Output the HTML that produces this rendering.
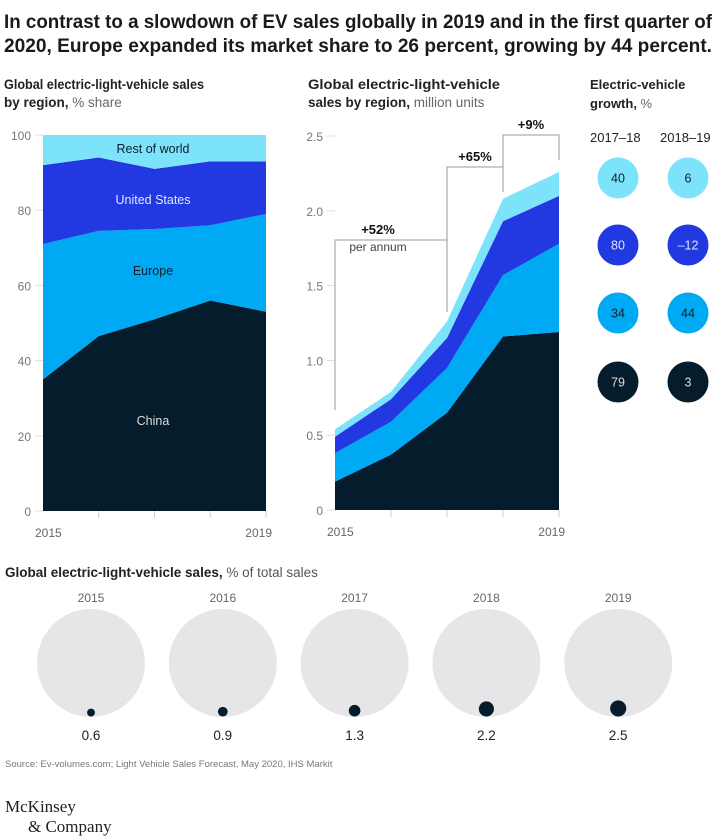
<!DOCTYPE html>
<html><head><meta charset="utf-8"><style>
html,body{margin:0;padding:0;background:#fff;}
svg{display:block;font-family:"Liberation Sans",Arial,sans-serif;}
</style></head><body>
<svg id="c" width="720" height="839" viewBox="0 0 720 839" xmlns="http://www.w3.org/2000/svg">
<g font-size="19" font-weight="bold" fill="#1a1a1a">
<text x="4" y="28" textLength="708" lengthAdjust="spacingAndGlyphs">In contrast to a slowdown of EV sales globally in 2019 and in the first quarter of</text>
<text x="4" y="52" textLength="708" lengthAdjust="spacingAndGlyphs">2020, Europe expanded its market share to 26 percent, growing by 44 percent.</text>
</g>
<g font-size="13.5" fill="#222">
<text x="4" y="89" font-weight="bold" textLength="200" lengthAdjust="spacingAndGlyphs">Global electric-light-vehicle sales</text>
<text x="4" y="107"><tspan font-weight="bold">by region,</tspan><tspan fill="#666"> % share</tspan></text>
</g>
<g font-size="13.5" fill="#222">
<text x="308" y="89" font-weight="bold" textLength="192" lengthAdjust="spacingAndGlyphs">Global electric-light-vehicle</text>
<text x="308" y="107"><tspan font-weight="bold">sales by region,</tspan><tspan fill="#666"> million units</tspan></text>
</g>
<g font-size="13" fill="#222">
<text x="590" y="89" font-weight="bold">Electric-vehicle</text>
<text x="590" y="108"><tspan font-weight="bold">growth,</tspan><tspan fill="#666"> %</tspan></text>
<text x="590" y="142" font-size="13">2017–18</text>
<text x="660" y="142" font-size="13">2018–19</text>
</g>
<g id="left"></g>
<g id="right"></g>
<g id="growth"></g>
<g font-size="13.5" fill="#222">
<text x="5" y="577"><tspan font-weight="bold">Global electric-light-vehicle sales,</tspan><tspan fill="#555"> % of total sales</tspan></text>
</g>
<g id="pct"></g>
<text x="5" y="767" font-size="9.5" fill="#777">Source: Ev-volumes.com; Light Vehicle Sales Forecast, May 2020, IHS Markit</text>
<g font-family="'Liberation Serif',serif" font-size="17" fill="#222">
<text x="5" y="812">McKinsey</text>
<text x="28" y="832">&amp; Company</text>
</g>
</svg>
<script>
const years=[2015,2016,2017,2018,2019];
const regions=["China","Europe","United States","Rest of world"];
const colors=["#051c2c","#00a9f4","#2238e0","#7de3fb"];
const shareChina=[35,46.5,51,56,53];
const shareEurope=[36,28,24,20,26];
const shareUS=[21,19.5,16,17,14];
const shareRoW=[8,6,9,7,7];
const shareTicks=[0,20,40,60,80,100];
const unitsChina=[0.19,0.37,0.65,1.16,1.19];
const unitsEurope=[0.19,0.22,0.30,0.41,0.59];
const unitsUS=[0.11,0.15,0.20,0.36,0.32];
const unitsRoW=[0.05,0.05,0.11,0.15,0.16];
const unitTicks=[0,0.5,1.0,1.5,2.0,2.5];
const growthA=["40","80","34","79"];
const growthB=["6","–12","44","3"];
const pctYears=["2015","2016","2017","2018","2019"];
const pctValues=[0.6,0.9,1.3,2.2,2.5];
const NS="http://www.w3.org/2000/svg";
function mk(parent,tag,attrs,txt){const e=document.createElementNS(NS,tag);for(const k in attrs)e.setAttribute(k,attrs[k]);if(txt!==undefined)e.textContent=txt;parent.appendChild(e);return e;}
function stack(g,series,xs,ys,ticks,fmt){
  const x0=xs(0),x1=xs(years.length-1);
  ticks.forEach(t=>{const y=ys(t);
    const l=mk(g,'line',{x1:x0-8,x2:x0,y1:y,y2:y,stroke:'#ddd','stroke-width':1});
    
    const tx=mk(g,'text',{x:x0-12,y:y+5,'text-anchor':'end','font-size':12,fill:'#777'},fmt(t));
    });
  let base=years.map(()=>0);
  series.forEach((s,i)=>{const top=base.map((b,j)=>b+s[j]);
    let d='M'+years.map((_,j)=>xs(j)+','+ys(top[j])).join('L');
    for(let j=years.length-1;j>=0;j--)d+='L'+xs(j)+','+ys(base[j]);
    const p=mk(g,'path',{d:d+'Z',fill:colors[i]});
    
    base=top;});
  years.forEach((_,j)=>{if(j>0){const l=mk(g,'line',{x1:xs(j),x2:xs(j),y1:ys(0),y2:ys(0)+7,stroke:'#ccc'});}});
  const a=mk(g,'text',{x:x0-8,y:ys(0)+26,'font-size':12,fill:'#666'},String(years[0]));
  const b=mk(g,'text',{x:x1+6,y:ys(0)+26,'font-size':12,fill:'#666','text-anchor':'end'},String(years[years.length-1]));
}
const L=document.getElementById('left');
const lx=j=>43+j*(266-43)/4, ly=v=>511-v*3.76;
stack(L,[shareChina,shareEurope,shareUS,shareRoW],lx,ly,shareTicks,t=>String(t));
[["Rest of world",148,"#0a2030"],["United States",199,"#dfe6ff"],["Europe",270,"#0a2030"],["China",420,"#ddd"]].forEach(r=>{
  const t=mk(L,'text',{x:153,y:r[1]+5,'text-anchor':'middle','font-size':12.5,fill:r[2]},r[0]);
  });
const R=document.getElementById('right');
const rx=j=>335+j*(559-335)/4, ry=v=>510-v*149.6;
stack(R,[unitsChina,unitsEurope,unitsUS,unitsRoW],rx,ry,unitTicks,t=>t===0?'0':t.toFixed(1));
const br=mk(R,'g',{fill:'none',stroke:'#999','stroke-width':1});

mk(br,'path',{d:`M${rx(0)},410V240H${rx(2)}V312`});
mk(br,'path',{d:`M${rx(2)},240V167H${rx(3)}V192`});
mk(br,'path',{d:`M${rx(3)},192V135H${rx(4)}V160`});
[["+52%",(rx(0)+rx(2))/2-13,234,true],["per annum",(rx(0)+rx(2))/2-13,251,false],["+65%",(rx(2)+rx(3))/2,161,true],["+9%",(rx(3)+rx(4))/2,129,true]].forEach(a=>{
  const t=mk(R,'text',{x:a[1],y:a[2],'text-anchor':'middle','font-size':a[3]?13:12,'font-weight':a[3]?'bold':'normal',fill:a[3]?'#111':'#444'},a[0]);
  });
const G=document.getElementById('growth');
const rowY=[178,245,313,382];const bcol=[colors[3],colors[2],colors[1],colors[0]];const tcol=["#0a2030","#dfe6ff","#0a2030","#ddd"];
[growthA,growthB].forEach((arr,ci)=>{arr.forEach((v,ri)=>{const cx=ci?688:618;
  const c=mk(G,'circle',{cx:cx,cy:rowY[ri],r:20.5,fill:bcol[ri]});
  const t=mk(G,'text',{x:cx,y:rowY[ri]+4.5,'text-anchor':'middle','font-size':12.5,fill:tcol[ri]},v);});});
const P=document.getElementById('pct');
pctValues.forEach((v,i)=>{const cx=91+i*131.8,cy=663,R0=54,r=5.1*Math.sqrt(v);
  const bg=mk(P,'circle',{cx:cx,cy:cy,r:R0,fill:'#e6e6e8'});
  const d=mk(P,'circle',{cx:cx,cy:cy+R0-r-0.5,r:r,fill:'#051c2c'});
  const y=mk(P,'text',{x:cx,y:602,'text-anchor':'middle','font-size':12,fill:'#666'},pctYears[i]);
  const t=mk(P,'text',{x:cx,y:740,'text-anchor':'middle','font-size':13.5,fill:'#222'},String(v));});
</script>
</body></html>
